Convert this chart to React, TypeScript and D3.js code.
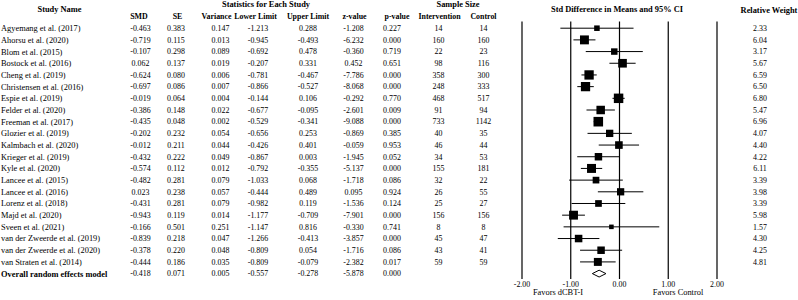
import React from "react";
import * as d3 from "d3";

const studies = [
  "Agyemang et al. (2017)", "Ahorsu et al. (2020)", "Blom et al. (2015)", "Bostock et al. (2016)",
  "Cheng et al. (2019)", "Christensen et al. (2016)", "Espie et al. (2019)", "Felder et al. (2020)",
  "Freeman et al. (2017)", "Glozier et al. (2019)", "Kalmbach et al. (2020)", "Krieger et al. (2019)",
  "Kyle et al. (2020)", "Lancee et al. (2015)", "Lancee et al. (2016)", "Lorenz et al. (2018)",
  "Majd et al. (2020)", "Sveen et al. (2021)", "van der Zweerde et al. (2019)",
  "van der Zweerde et al. (2020)", "van Straten et al. (2014)",
];
const smd = [-0.463, -0.719, -0.107, 0.062, -0.624, -0.697, -0.019, -0.386, -0.435, -0.202, -0.012, -0.432, -0.574, -0.482, 0.023, -0.431, -0.943, -0.166, -0.839, -0.378, -0.444];
const se = [0.383, 0.115, 0.298, 0.137, 0.080, 0.086, 0.064, 0.148, 0.048, 0.232, 0.211, 0.222, 0.112, 0.281, 0.238, 0.281, 0.119, 0.501, 0.218, 0.220, 0.186];
const variance = [0.147, 0.013, 0.089, 0.019, 0.006, 0.007, 0.004, 0.022, 0.002, 0.054, 0.044, 0.049, 0.012, 0.079, 0.057, 0.079, 0.014, 0.251, 0.047, 0.048, 0.035];
const lower = [-1.213, -0.945, -0.692, -0.207, -0.781, -0.866, -0.144, -0.677, -0.529, -0.656, -0.426, -0.867, -0.792, -1.033, -0.444, -0.982, -1.177, -1.147, -1.266, -0.809, -0.809];
const upper = [0.288, -0.493, 0.478, 0.331, -0.467, -0.527, 0.106, -0.095, -0.341, 0.253, 0.401, 0.003, -0.355, 0.068, 0.489, 0.119, -0.709, 0.816, -0.413, 0.054, -0.079];
const zValue = [-1.208, -6.232, -0.360, 0.452, -7.786, -8.068, -0.292, -2.601, -9.088, -0.869, -0.059, -1.945, -5.137, -1.718, 0.095, -1.536, -7.901, -0.330, -3.857, -1.716, -2.382];
const pValue = [0.227, 0.000, 0.719, 0.651, 0.000, 0.000, 0.770, 0.009, 0.000, 0.385, 0.953, 0.052, 0.000, 0.086, 0.924, 0.124, 0.000, 0.741, 0.000, 0.086, 0.017];
const nIntervention = [14, 160, 22, 98, 358, 248, 468, 91, 733, 40, 46, 34, 155, 32, 26, 25, 156, 8, 45, 43, 59];
const nControl = [14, 160, 23, 116, 300, 333, 517, 94, 1142, 35, 44, 53, 181, 22, 55, 27, 156, 8, 47, 41, 59];
const weight = [2.33, 6.04, 3.17, 5.67, 6.59, 6.50, 6.80, 5.47, 6.96, 4.07, 4.40, 4.22, 6.11, 3.39, 3.98, 3.39, 5.98, 1.57, 4.30, 4.25, 4.81];

const overallLabel = "Overall random effects model";
const overall = { smd: -0.418, se: 0.071, variance: 0.005, lower: -0.557, upper: -0.278, z: -5.878, p: 0.000 };

const axisTicks = [-2, -1, 0, 1, 2];
const favorsLeft = "Favors dCBT-I";
const favorsRight = "Favors Control";

const FONT = "'Liberation Serif', 'Times New Roman', serif";
const f3 = (v: number) => v.toFixed(3);
const f2 = (v: number) => v.toFixed(2);

export default function App() {
  const W = 798, H = 300;
  const x = d3.scaleLinear().domain([-2, 2]).range([522, 717]);
  const y = d3.scaleLinear().domain([0, studies.length]).range([28.2, 273.6]);
  const size = d3.scaleSqrt().domain([0, 7]).range([0, 9.6]);

  const cols: { key: string; head: string; hx: number; vx: number; vals: string[]; ov?: string }[] = [
    { key: "smd", head: "SMD", hx: 139, vx: 140.5, vals: smd.map(f3), ov: f3(overall.smd) },
    { key: "se", head: "SE", hx: 177.5, vx: 176, vals: se.map(f3), ov: f3(overall.se) },
    { key: "var", head: "Variance", hx: 216.5, vx: 220.5, vals: variance.map(f3), ov: f3(overall.variance) },
    { key: "lo", head: "Lower Limit", hx: 255.5, vx: 258, vals: lower.map(f3), ov: f3(overall.lower) },
    { key: "up", head: "Upper Limit", hx: 308, vx: 308, vals: upper.map(f3), ov: f3(overall.upper) },
    { key: "z", head: "z-value", hx: 354.5, vx: 353.5, vals: zValue.map(f3), ov: f3(overall.z) },
    { key: "p", head: "p-value", hx: 397, vx: 392, vals: pValue.map(f3), ov: f3(overall.p) },
    { key: "ni", head: "Intervention", hx: 439.5, vx: 438.5, vals: nIntervention.map(String) },
    { key: "nc", head: "Control", hx: 483.5, vx: 483.5, vals: nControl.map(String) },
  ];

  const fs = 8.4;
  const headFs = 7.9;
  const numFs = 7.9;
  const lineTop = 21.5, lineBottom = 279;
  const oy = y(studies.length);
  const dh = 3.4;

  return (
    <svg width={W} height={H} style={{ position: "absolute", left: 0, top: 0, background: "#fff" }}
      fontFamily={FONT} fontSize={fs} fill="#000">
      <rect width={W} height={H} fill="#fff" />
      {/* headers */}
      <g fontWeight="bold" textAnchor="middle">
        <text x={59.5} y={9.5} dy="0.35em">Study Name</text>
        <text x={266} y={4.5} dy="0.35em">Statistics for Each Study</text>
        <text x={458} y={4.5} dy="0.35em">Sample Size</text>
        {cols.map(c => (
          <text key={c.key} x={c.hx} y={15.8} dy="0.35em" fontSize={headFs}>{c.head}</text>
        ))}
        <text x={x(0) - 2.5} y={9.5} dy="0.35em">Std Difference in Means and 95% CI</text>
        <text x={769} y={10} dy="0.35em">Relative Weight</text>
      </g>

      {/* study names */}
      {studies.map((s, i) => (
        <text key={s} x={1} y={y(i)} dy="0.35em">{s}</text>
      ))}
      <text x={1} y={oy} dy="0.35em" fontWeight="bold">{overallLabel}</text>

      {/* numeric columns */}
      {cols.map(c => (
        <g key={c.key} textAnchor="middle" fontSize={numFs}>
          {c.vals.map((v, i) => (
            <text key={i} x={c.vx} y={y(i)} dy="0.35em">{v}</text>
          ))}
          {c.ov && <text x={c.vx} y={oy} dy="0.35em">{c.ov}</text>}
        </g>
      ))}

      {/* weights */}
      <g textAnchor="middle" fontSize={numFs}>
        {weight.map((w, i) => (
          <text key={i} x={760} y={y(i)} dy="0.35em">{f2(w)}</text>
        ))}
      </g>

      {/* vertical reference lines */}
      {axisTicks.map(t => (
        <line key={t} x1={x(t)} x2={x(t)} y1={lineTop} y2={lineBottom} stroke="#000" strokeWidth={1.2} />
      ))}

      {/* CI lines and squares */}
      {studies.map((s, i) => {
        const cy = y(i);
        const side = size(weight[i]);
        return (
          <g key={s}>
            <line x1={x(lower[i])} x2={x(upper[i])} y1={cy} y2={cy} stroke="#000" strokeWidth={1} />
            <rect x={x(smd[i]) - side / 2} y={cy - side / 2} width={side} height={side} fill="#000" />
          </g>
        );
      })}

      {/* overall diamond */}
      <path
        d={`M${x(overall.lower)},${oy} L${x(overall.smd)},${oy - dh} L${x(overall.upper)},${oy} L${x(overall.smd)},${oy + dh} Z`}
        fill="#fff" stroke="#000" strokeWidth={1}
      />

      {/* axis labels */}
      <g textAnchor="middle" fontSize={numFs}>
        {axisTicks.map(t => (
          <text key={t} x={x(t)} y={284.5} dy="0.35em">{f2(t)}</text>
        ))}
        <text x={558} y={292.5} dy="0.35em" fontSize={fs}>{favorsLeft}</text>
        <text x={678} y={292.5} dy="0.35em" fontSize={fs}>{favorsRight}</text>
      </g>
    </svg>
  );
}
